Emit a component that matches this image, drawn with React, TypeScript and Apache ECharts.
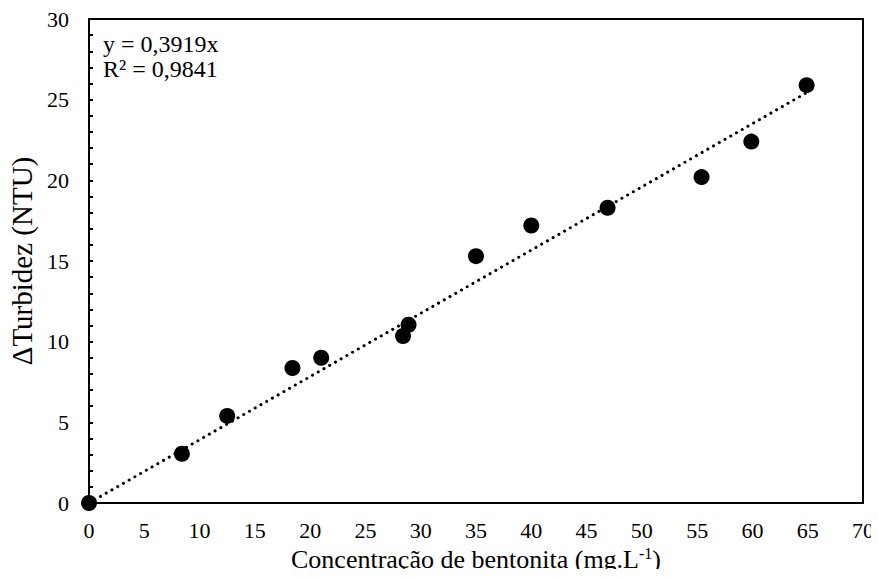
import React, { useEffect, useRef } from "react";
import * as echarts from "echarts";

const concentration = [0, 8.4, 12.5, 18.4, 21.0, 28.4, 28.9, 35.0, 40.0, 46.9, 55.4, 59.9, 64.9];
const turbidity = [0, 3.05, 5.4, 8.37, 9.0, 10.35, 11.05, 15.3, 17.2, 18.3, 20.2, 22.4, 25.9];
const slope = 0.3919;
const r2 = "0,9841";
const trendX = [0, 65];
const xTicks = [0, 70, 5];
const yTicks = [0, 30, 5];

const FONT = "'Liberation Serif', 'Times New Roman', serif";

export default function App() {
  const ref = useRef<HTMLDivElement>(null);
  useEffect(() => {
    if (!ref.current) return;
    const chart = echarts.init(ref.current, undefined, { renderer: "svg" });
    const points = concentration.map((x, i) => [x, turbidity[i]]);
    const trend = trendX.map((x) => [x, slope * x]);
    chart.setOption({
      animation: false,
      backgroundColor: "#fff",
      grid: {
        left: 89,
        right: 16,
        top: 19,
        bottom: 74,
        show: true,
        borderColor: "#000",
        borderWidth: 2,
        containLabel: false,
        outerBoundsMode: "none",
      },
      xAxis: {
        type: "value",
        min: xTicks[0],
        max: xTicks[1],
        interval: xTicks[2],
        splitLine: { show: false },
        axisLine: { lineStyle: { color: "#000", width: 2 } },
        axisTick: { show: false },
        axisLabel: { color: "#000", fontFamily: FONT, fontSize: 22, margin: 16 },
        name: "Concentração de bentonita (mg.L{sup|-1})",
        nameLocation: "middle",
        nameGap: 39,
        nameTextStyle: {
          color: "#000",
          fontFamily: FONT,
          fontSize: 26,
          lineHeight: 28,
          rich: {
            sup: { fontSize: 16, fontFamily: FONT, color: "#000", lineHeight: 28, padding: [0, 0, 12, 0] },
          },
        },
      },
      yAxis: {
        type: "value",
        min: yTicks[0],
        max: yTicks[1],
        interval: yTicks[2],
        splitLine: { show: false },
        axisLine: { lineStyle: { color: "#000", width: 2 } },
        axisTick: { show: true, inside: true, length: 4, lineStyle: { color: "#000", width: 2 } },
        minorTick: { show: true, splitNumber: 5, length: 4, lineStyle: { color: "#000", width: 2 } },
        axisLabel: { color: "#000", fontFamily: FONT, fontSize: 22, margin: 20 },
        name: "ΔTurbidez (NTU)",
        nameLocation: "middle",
        nameGap: 50,
        nameTextStyle: { color: "#000", fontFamily: FONT, fontSize: 29 },
      },
      graphic: [
        {
          type: "text",
          left: 103,
          top: 31,
          style: {
            text: "y = 0,3919x\nR² = " + r2,
            fontFamily: FONT,
            fontSize: 24,
            lineHeight: 25,
            fill: "#000",
          },
        },
      ],
      series: [
        {
          type: "line",
          data: trend,
          symbol: "none",
          lineStyle: { color: "#000", width: 3, type: [0.1, 6.5], cap: "round" },
          z: 1,
        },
        {
          type: "scatter",
          data: points,
          symbol: "circle",
          symbolSize: 16,
          itemStyle: { color: "#000", opacity: 1 },
          z: 2,
        },
      ],
    });
    return () => chart.dispose();
  }, []);
  return <div ref={ref} style={{ width: 879, height: 577, margin: -8 }} />;
}
